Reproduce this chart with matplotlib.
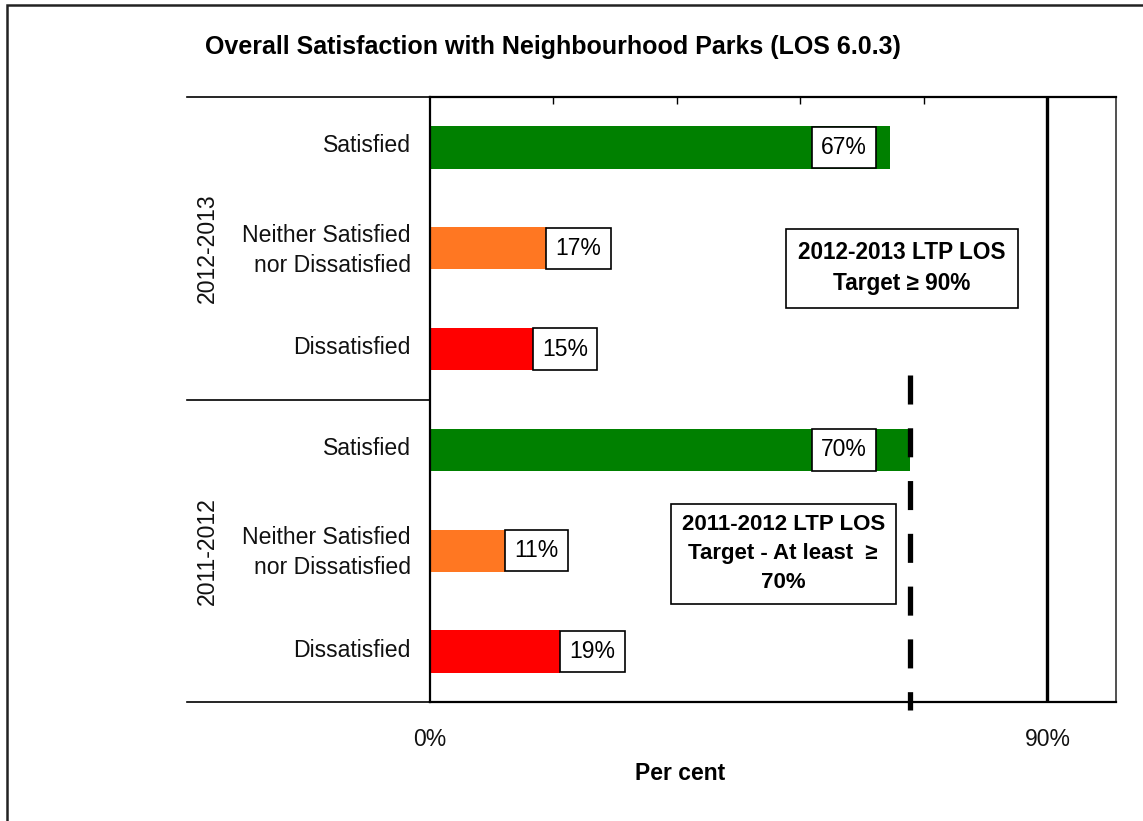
import matplotlib
matplotlib.use("Agg")
import matplotlib.pyplot as plt
from matplotlib.patches import Rectangle
from matplotlib.transforms import ScaledTranslation
import numpy as np

plt.rcParams['font.family'] = ['Liberation Sans', 'DejaVu Sans']

categories = ["Satisfied", "Neither Satisfied\nnor Dissatisfied", "Dissatisfied",
              "Satisfied", "Neither Satisfied\nnor Dissatisfied", "Dissatisfied"]
values = [67, 17, 15, 70, 11, 19]
label_texts = ["67%", "17%", "15%", "70%", "11%", "19%"]
colors = ["#008000", "#FF7722", "#FF0000", "#008000", "#FF7722", "#FF0000"]
groups = ["2012-2013", "2011-2012"]
target_2012_13 = 90
target_2011_12 = 70
xtick_vals = [0, 90]
xtick_labels = ["0%", "90%"]
top_ticks = [18, 36, 54, 72]
title = "Overall Satisfaction with Neighbourhood Parks (LOS 6.0.3)"
box1_text = "2012-2013 LTP LOS\nTarget \u2265 90%"
box2_text = "2011-2012 LTP LOS\nTarget - At least  \u2265\n70%"

W, H = 1143, 821
fig = plt.figure(figsize=(W / 100, H / 100), dpi=100)
ax = fig.add_axes([430 / W, 1 - 702 / H, (1116 - 430) / W, (702 - 97) / H])

# figure border
fig.patches.append(Rectangle((7 / W, -0.1), 1.2, 1 - 5 / H + 0.1, transform=fig.transFigure,
                             fill=False, edgecolor="#222222", linewidth=1.8))

y = np.arange(len(values))
ax.barh(y, values, height=0.42, color=colors, zorder=2)
ax.set_xlim(0, 100)
ax.set_ylim(len(values) - 0.5, -0.5)

# value labels
lab_box = dict(boxstyle="square,pad=0.4", facecolor="white", edgecolor="black", linewidth=1.2)
for yi, v, t in zip(y, values, label_texts):
    if v > 50:
        ax.annotate(t, (65, yi), xytext=(-6.5, 0), textcoords="offset points", ha="right",
                    va="center", fontsize=16.5, zorder=5, bbox=lab_box)
    else:
        ax.annotate(t, (v, yi), xytext=(6.5, 0), textcoords="offset points", ha="left",
                    va="center", fontsize=16.5, zorder=5, bbox=lab_box)

# target lines
ax.axvline(target_2012_13, color="black", linewidth=2.4, zorder=3)
ax.plot([target_2011_12, target_2011_12], [2.26, 5.58], color="black", linewidth=3.8,
        linestyle=(0, (5.5, 4.5)), clip_on=False, zorder=4)

# target boxes
ax.text(68.8, 1.2, box1_text, ha="center", va="center", fontsize=16.3, fontweight="bold",
        linespacing=1.44,
        bbox=dict(boxstyle="square,pad=0.55", facecolor="white", edgecolor="black", linewidth=1.2))
ax.text(51.5, 4.03, box2_text, ha="center", va="center", fontsize=16, fontweight="bold",
        linespacing=1.5,
        bbox=dict(boxstyle="square,pad=0.48", facecolor="white", edgecolor="black", linewidth=1.2))

# axes styling
ax.set_yticks(y)
ax.set_yticklabels(categories, fontsize=16.6, color="#111111", linespacing=1.4)
ax.tick_params(axis="y", length=0, pad=14)
shift = ScaledTranslation(0, 4 / 100, fig.dpi_scale_trans)
for lab in ax.get_yticklabels():
    lab.set_transform(lab.get_transform() + shift)
ax.set_xticks(xtick_vals)
ax.set_xticklabels(xtick_labels, fontsize=16.5, color="#111111")
ax.tick_params(axis="x", length=0, pad=19)
for s in ["left", "bottom", "top"]:
    ax.spines[s].set_linewidth(1.6)
    ax.spines[s].set_color("black")
ax.spines["right"].set_linewidth(1.2)
ax.spines["right"].set_color("#333333")

# top ticks
ax2 = ax.secondary_xaxis("top")
ax2.set_xticks(top_ticks)
ax2.set_xticklabels([])
ax2.tick_params(direction="in", length=5, width=1)
ax2.spines["top"].set_visible(False)

ax.set_xlabel("Per cent", fontsize=16.5, fontweight="bold")
ax.xaxis.set_label_coords(0.364, -0.099)

# group separators and labels
trans = ax.get_yaxis_transform()
for ysep in [-0.5, 2.5, 5.5]:
    ax.plot([-0.354, 0], [ysep, ysep], transform=trans, color="black", linewidth=1.2, clip_on=False)
for gi, g in enumerate(groups):
    ax.text(-0.324, 1 + 3 * gi, g, transform=trans, rotation=90, ha="center", va="center",
            fontsize=16.6, color="#111111")

fig.text(553 / W, 1 - 47 / H, title, ha="center", va="center", fontsize=18, fontweight="bold")

fig.savefig("out.png", dpi=100, facecolor="white")
